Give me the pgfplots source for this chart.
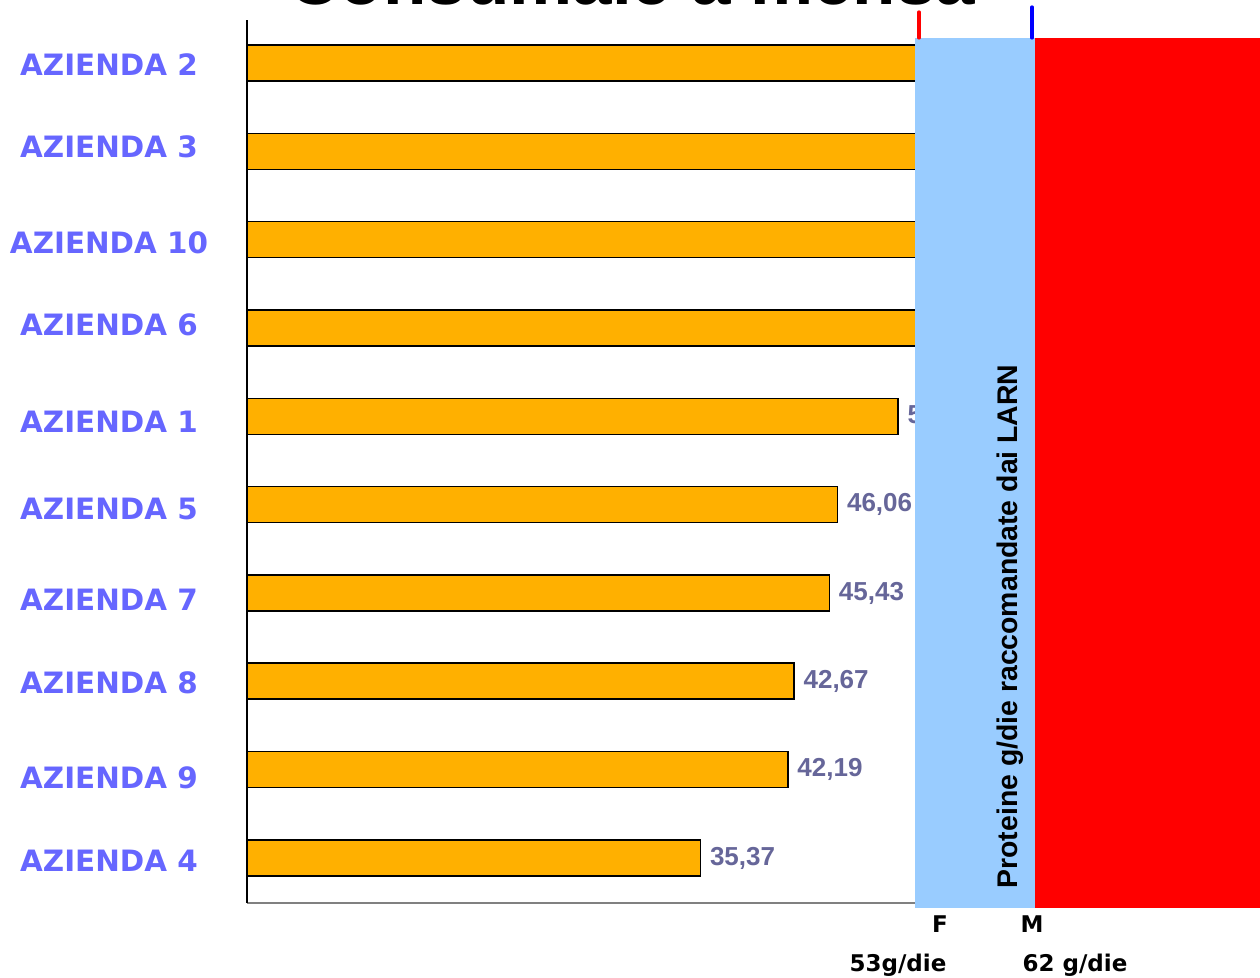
\documentclass[border=0pt]{standalone}
\usepackage{pgfplots}
\pgfplotsset{compat=1.18}
\usepackage{fontspec}
\newfontfamily\verd{DejaVu Sans}
\newfontfamily\arial{Liberation Sans}
\definecolor{barorange}{RGB}{255,176,0}
\definecolor{lblblue}{RGB}{102,102,255}
\definecolor{valgray}{RGB}{102,102,153}
\definecolor{larnblue}{RGB}{153,204,255}
\begin{document}
\begin{tikzpicture}[x=1pt,y=1pt]
\begin{axis}[
  at={(123.5pt,37.5pt)}, anchor=south west,
  scale only axis, width=506.5pt, height=441.5pt,
  xmin=0, xmax=79, ymin=-0.51, ymax=9.487,
  axis x line*=bottom, axis y line*=left,
  x axis line style={draw=gray, line width=1.2pt},
  y axis line style={draw=black, line width=0.8pt},
  xtick=\empty,
  ytick={-0.034,0.906,1.981,2.921,3.951,4.936,6.034,6.962,8.049,8.978},
  yticklabels={AZIENDA 4,AZIENDA 9,AZIENDA 8,AZIENDA 7,AZIENDA 5,AZIENDA 1,AZIENDA 6,AZIENDA 10,AZIENDA 3,AZIENDA 2},
  major tick length=0pt,
  yticklabel style={anchor=center, xshift=-69pt, text=lblblue, font=\verd\bfseries\fontsize{14.7}{17}\selectfont},
  xbar, bar width=18pt,
  clip=false,
  nodes near coords,
  point meta=explicit symbolic,
  every node near coord/.append style={anchor=west, xshift=1pt, text=valgray, font=\arial\bfseries\fontsize{13}{15}\selectfont},
]
\addplot[fill=barorange, draw=black, line width=0.8pt] table[x=x, y=y, meta=lab] {
x y lab
35.37 0 35,37
42.19 1 42,19
42.67 2 42,67
45.43 3 45,43
46.06 4 46,06
50.78 5 50,78
56.00 6 56,00
57.00 7 57,00
58.00 8 58,00
60.00 9 60,00
};
\end{axis}
% LARN overlay
\fill[larnblue] (457.5,35) rectangle (517.5,470);
\fill[red] (517.5,35) rectangle (630,470);
\draw[red, line width=1.6pt, line cap=round] (459.5,483) -- (459.5,470);
\draw[blue, line width=1.6pt, line cap=round] (516,485.5) -- (516,470);
\node[rotate=90, font=\arial\bfseries\fontsize{14.2}{16}\selectfont, text=black] at (505,175.75) {Proteine g/die raccomandate dai LARN};
\node[font=\verd\bfseries\fontsize{11.5}{14}\selectfont] at (470,27) {F};
\node[font=\verd\bfseries\fontsize{11.5}{14}\selectfont] at (516,27) {M};
\node[font=\verd\bfseries\fontsize{11.5}{14}\selectfont] at (449,6.5) {53g/die};
\node[font=\verd\bfseries\fontsize{11.5}{14}\selectfont] at (537.5,6.5) {62 g/die};
\node[anchor=base, font=\arial\bfseries\fontsize{35.5}{40}\selectfont, inner sep=0pt] at (316,486.5) {Consumale a mensa};
\pgfresetboundingbox
\useasboundingbox (0,0) rectangle (630,489);
\end{tikzpicture}
\end{document}
